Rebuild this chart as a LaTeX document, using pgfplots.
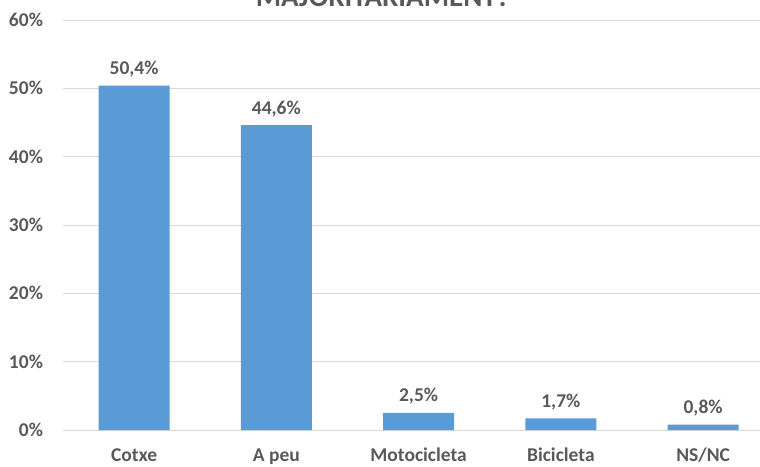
\documentclass[border=0pt]{standalone}
\usepackage{fontspec}
\setmainfont{Carlito}
\usepackage{pgfplots}
\pgfplotsset{compat=1.18}
\definecolor{barblue}{HTML}{5B9BD5}
\definecolor{txtgray}{HTML}{595959}
\definecolor{gridgray}{HTML}{D9D9D9}
\begin{document}
\begin{tikzpicture}
\begin{axis}[
    name=ax,
    at={(0,0)}, anchor=south west,
    scale only axis,
    width=697pt, height=410pt,
    xmin=-0.5, xmax=4.4,
    ymin=0, ymax=60,
    axis x line*=bottom,
    axis y line*=left,
    x axis line style={gridgray, line width=1pt, -},
    y axis line style={draw=none},
    ymajorgrids,
    grid style={gridgray, line width=0.8pt},
    major tick length=0pt,
    xtick=data,
    xticklabels={Cotxe, A peu, Motocicleta, Bicicleta, NS/NC},
    ytick={0,10,...,60},
    yticklabel={\pgfmathprintnumber{\tick}\%},
    yticklabel style={anchor=east, xshift=-16.5pt},
    xticklabel style={anchor=base, yshift=-31pt},
    ticklabel style={font=\fontsize{19.5}{22}\selectfont\bfseries, text=txtgray},
    /pgf/number format/assume math mode=true,
    ybar,
    bar width=0.5,
    nodes near coords={\pgfmathprintnumber[fixed,fixed zerofill,precision=1,use comma]{\pgfplotspointmeta}\%},
    every node near coord/.append style={font=\fontsize{19.5}{22}\selectfont\bfseries, text=txtgray, anchor=base, inner sep=0pt, yshift=11pt},
    clip=false,
]
\addplot[fill=barblue, draw=none] coordinates {
    (0, 50.4)
    (1, 44.6)
    (2, 2.5)
    (3, 1.7)
    (4, 0.8)
};
\end{axis}
\node[anchor=base, text=txtgray, font=\fontsize{29}{34}\selectfont\bfseries] at (320pt,423pt) {MAJORITARIAMENT?};
\pgfresetboundingbox
\useasboundingbox (-63pt,-36pt) rectangle (697pt,430pt);
\end{tikzpicture}
\end{document}
